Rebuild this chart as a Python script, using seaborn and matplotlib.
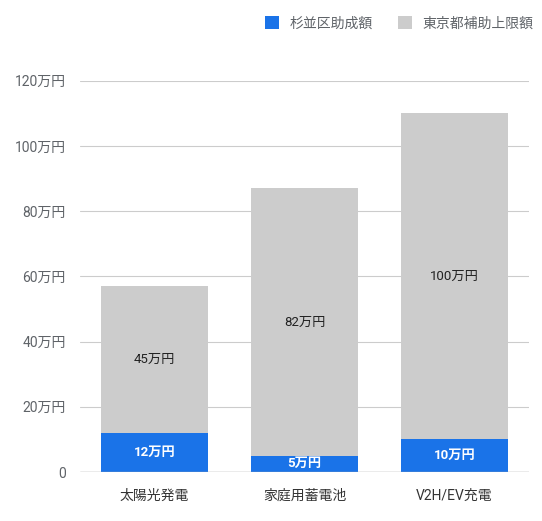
import matplotlib
matplotlib.use("Agg")
import matplotlib.pyplot as plt
import seaborn as sns
import pandas as pd
from matplotlib.patches import Patch

categories = ["太陽光発電", "家庭用蓄電池", "V2H/EV充電"]
suginami = [12, 5, 10]
tokyo = [45, 82, 100]
series_names = ["杉並区助成額", "東京都補助上限額"]

blue = "#1a73e8"
gray = "#cccccc"
text_gray = "#5f6368"

sns.set_theme(style="white")
plt.rcParams["font.family"] = ["Roboto", "Noto Sans CJK JP", "DejaVu Sans"]

df = pd.DataFrame({"cat": categories, "local": suginami, "metro": tokyo})
df["total"] = df["local"] + df["metro"]

fig = plt.figure(figsize=(5.42, 5.21), dpi=100)
ax = fig.add_axes([0.1467, 0.094, 0.830, 0.751])

# stacked bars: draw total in gray, then local part in blue over it
sns.barplot(data=df, x="cat", y="total", color=gray, width=0.713,
            saturation=1, linewidth=0, ax=ax, zorder=3)
sns.barplot(data=df, x="cat", y="local", color=blue, width=0.713,
            saturation=1, linewidth=0, ax=ax, zorder=4)

for i, row in df.iterrows():
    ax.text(i, row["local"] / 2, f"{row['local']}万円", ha="center", va="center",
            color="white", fontsize=9.5, fontweight="bold", zorder=5)
    ax.text(i, row["local"] + row["metro"] / 2, f"{row['metro']}万円",
            ha="center", va="center", color="#222222", fontsize=9.5, zorder=5)

ax.set_ylim(0, 120)
ax.set_xlim(-0.5, 2.5)
yt = list(range(0, 121, 20))
ax.set_yticks(yt)
ax.set_yticklabels(["0"] + [f"{v}万円" for v in yt[1:]])
ax.set_xlabel("")
ax.set_ylabel("")
ax.grid(axis="y", color="#cccccc", linewidth=0.8, zorder=0)
for s in ax.spines.values():
    s.set_visible(False)
ax.axhline(0, color="#aaaaaa", linewidth=1, zorder=6)
ax.tick_params(axis="both", length=0, labelsize=10, colors=text_gray, pad=10)
ax.tick_params(axis="x", labelcolor="#333333", pad=12)

handles = [Patch(facecolor=blue, edgecolor="none"),
           Patch(facecolor=gray, edgecolor="none")]
fig.legend(handles, series_names, loc="center right", bbox_to_anchor=(0.985, 0.955),
           ncol=2, frameon=False, fontsize=10, labelcolor=text_gray,
           handlelength=1.0, handleheight=1.0, columnspacing=1.8,
           handletextpad=0.8, borderaxespad=0, borderpad=0)

fig.savefig("out.png", dpi=100)
